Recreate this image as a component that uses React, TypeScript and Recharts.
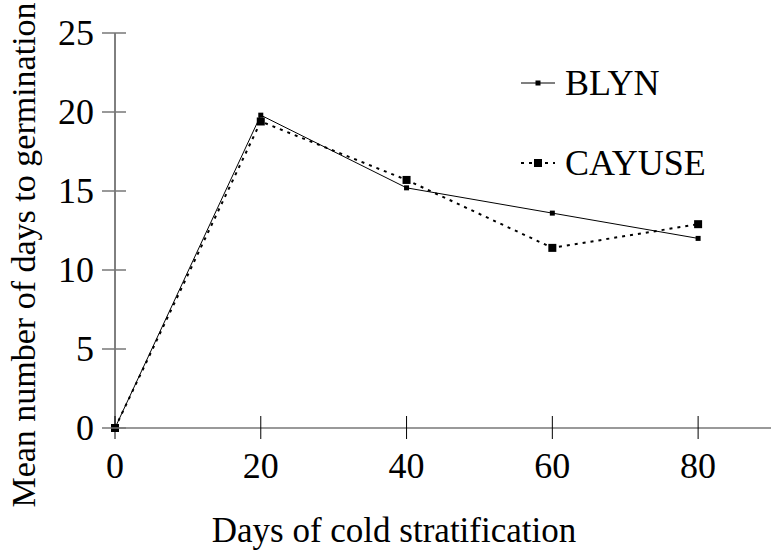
import React from 'react';
import { LineChart, Line, XAxis, YAxis, Legend } from 'recharts';

const days = [0, 20, 40, 60, 80];
const blynValues = [0, 19.8, 15.2, 13.6, 12.0];
const cayuseValues = [0, 19.4, 15.7, 11.4, 12.9];
const xTicks = [0, 20, 40, 60, 80];
const yTicks = [0, 5, 10, 15, 20, 25];
const seriesNames = ['BLYN', 'CAYUSE'];
const xTitle = 'Days of cold stratification';
const yTitle = 'Mean number of days to germination';

const data = days.map((d, i) => ({ day: d, BLYN: blynValues[i], CAYUSE: cayuseValues[i] }));

const W = 772;
const H = 552;
const PLOT_LEFT = 115;
const AXIS_Y = 428;
const M = { top: 33, right: 1, bottom: H - AXIS_Y - 1, left: PLOT_LEFT - 1 };
const FONT = '"Liberation Serif", "Times New Roman", Times, serif';
const FS = 36;
const TITLE_FS = 35;
const YTITLE_FS = 34;

const YTick = (props: any) => {
  const c = props.payload.coordinate;
  return (
    <g>
      <line x1={PLOT_LEFT - 13} x2={PLOT_LEFT + 11} y1={c} y2={c} stroke="#777" strokeWidth={1.5} />
      <text x={PLOT_LEFT - 21} y={c} textAnchor="end" dominantBaseline="central" fontFamily={FONT} fontSize={FS} fill="#000">
        {props.payload.value}
      </text>
    </g>
  );
};

const XTick = (props: any) => {
  const c = props.payload.coordinate;
  return (
    <g>
      <line x1={c} x2={c} y1={AXIS_Y - 12} y2={AXIS_Y + 11} stroke="#000" strokeWidth={1} />
      <text x={c} y={AXIS_Y + 38} textAnchor="middle" dominantBaseline="central" fontFamily={FONT} fontSize={FS} fill="#000">
        {props.payload.value}
      </text>
    </g>
  );
};

const SmallSquare = (props: any) => {
  const { cx, cy } = props;
  if (cx == null || cy == null) return null;
  return <rect x={cx - 2.5} y={cy - 2.5} width={5} height={5} fill="#000" />;
};

const BigSquare = (props: any) => {
  const { cx, cy } = props;
  if (cx == null || cy == null) return null;
  return <rect x={cx - 4} y={cy - 4} width={8} height={8} fill="#000" />;
};

const renderLegend = () => (
  <svg width={230} height={130} style={{ overflow: 'visible' }}>
    {seriesNames.map((name, i) => {
      const cy = 28 + i * 80;
      const dashed = name === 'CAYUSE';
      return (
        <g key={name}>
          <line x1={6} x2={40} y1={cy} y2={cy} stroke="#000" strokeWidth={dashed ? 2 : 1} strokeDasharray={dashed ? '3 5' : undefined} />
          {dashed ? (
            <rect x={19} y={cy - 4} width={8} height={8} fill="#000" />
          ) : (
            <rect x={20.5} y={cy - 2.5} width={5} height={5} fill="#000" />
          )}
          <text x={50} y={cy} dominantBaseline="central" fontFamily={FONT} fontSize={FS} fill="#000">
            {name}
          </text>
        </g>
      );
    })}
  </svg>
);

export default function App() {
  return (
    <div style={{ position: 'absolute', left: 0, top: 0, background: '#fff' }}>
      <LineChart width={W} height={H} data={data} margin={M}>
        <XAxis
          dataKey="day"
          type="number"
          domain={[0, 90]}
          ticks={xTicks}
          height={1}
          tickLine={false}
          axisLine={{ stroke: '#777', strokeWidth: 1.5 }}
          tick={<XTick />}
          interval={0}
          label={{
            content: () => (
              <text x={394} y={530} textAnchor="middle" dominantBaseline="central" fontFamily={FONT} fontSize={TITLE_FS} fill="#000">
                {xTitle}
              </text>
            ),
          }}
        />
        <YAxis
          type="number"
          domain={[0, 25]}
          ticks={yTicks}
          width={1}
          tickLine={false}
          axisLine={{ stroke: '#000', strokeWidth: 1 }}
          tick={<YTick />}
          interval={0}
          label={{
            content: () => (
              <text x={23} y={255} transform="rotate(-90 23 255)" textAnchor="middle" dominantBaseline="central" fontFamily={FONT} fontSize={YTITLE_FS} fill="#000">
                {yTitle}
              </text>
            ),
          }}
        />
        <Legend
          layout="vertical"
          align="center"
          verticalAlign="middle"
          content={renderLegend}
          wrapperStyle={{ position: 'absolute', left: 515, top: 55, width: 230, height: 130 }}
        />
        <Line dataKey="BLYN" stroke="#000" strokeWidth={1} dot={<SmallSquare />} activeDot={false} isAnimationActive={false} />
        <Line dataKey="CAYUSE" stroke="#000" strokeWidth={2} strokeDasharray="3 5" dot={<BigSquare />} activeDot={false} isAnimationActive={false} />
      </LineChart>
    </div>
  );
}
